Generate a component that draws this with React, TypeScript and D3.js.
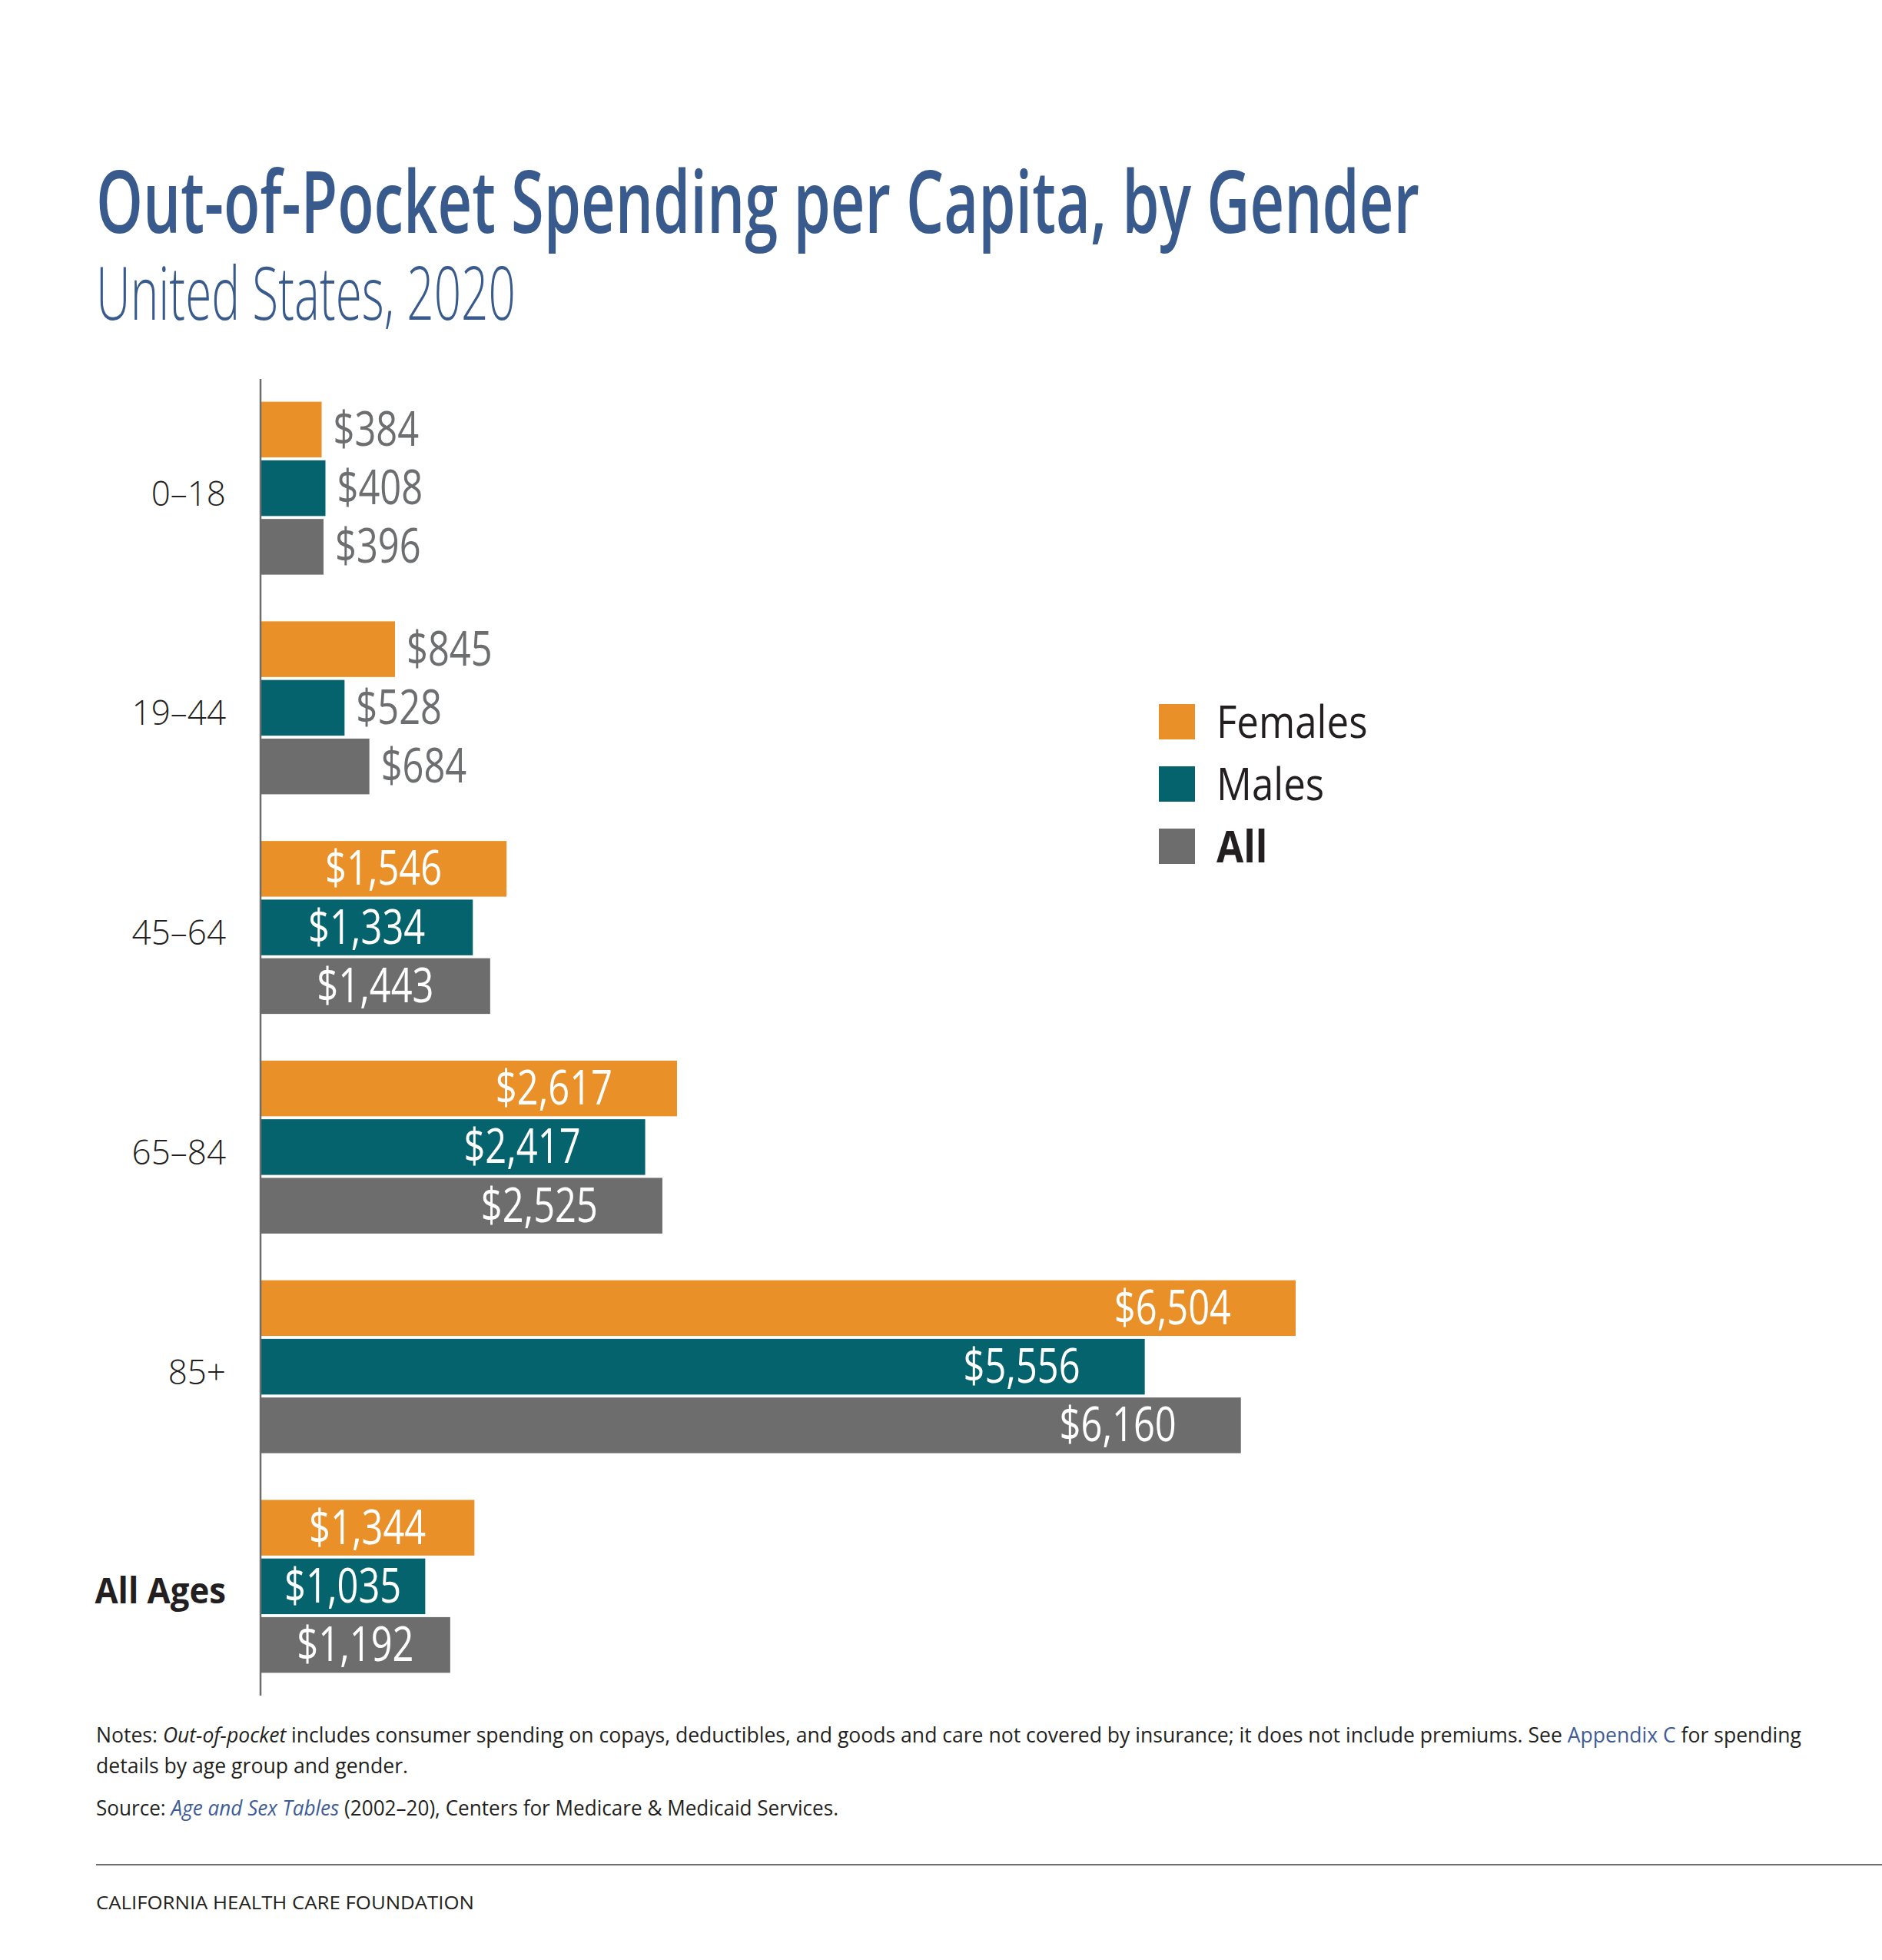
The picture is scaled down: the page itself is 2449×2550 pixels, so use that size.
import React from "react";
import * as d3 from "d3";

const categories = ["0–18", "19–44", "45–64", "65–84", "85+", "All Ages"];
const seriesNames = ["Females", "Males", "All"];
const females = [384, 845, 1546, 2617, 6504, 1344];
const males = [408, 528, 1334, 2417, 5556, 1035];
const allPeople = [396, 684, 1443, 2525, 6160, 1192];
const seriesColors = ["#EA9029", "#04636D", "#6D6D6D"];

const W = 2449;
const H = 2550;
const FONT = "'Open Sans', 'Noto Sans', sans-serif";

export default function App() {
  const values = [females, males, allPeople];
  const x = d3.scaleLinear().domain([0, 7000]).range([339, 339 + 7000 * 0.2071]);
  const y = d3.scaleBand<string>().domain(categories).range([493, 2206]).paddingInner(0.2126).paddingOuter(0.1037);
  const yi = d3.scaleBand<string>().domain(seriesNames).range([0, y.bandwidth()]).paddingInner(0.05);
  const fmt = d3.format("$,");

  const bars: React.ReactNode[] = [];
  categories.forEach((cat, ci) => {
    seriesNames.forEach((s, si) => {
      const v = values[si][ci];
      const y0 = (y(cat) as number) + (yi(s) as number);
      const h = yi.bandwidth();
      const x0 = x(0);
      const x1 = x(v);
      const cy = y0 + h / 2 + 21;
      bars.push(
        <rect key={`b-${ci}-${si}`} x={x0} y={y0} width={x1 - x0} height={h} fill={seriesColors[si]} />
      );
      let lx: number;
      let anchor: string;
      let fill: string;
      if (v < 1000) {
        lx = x1 + 15;
        anchor = "start";
        fill = "#6D6E70";
      } else if (v < 2000) {
        lx = (x0 + x1) / 2;
        anchor = "middle";
        fill = "#FFFFFF";
      } else {
        lx = x1 - 84;
        anchor = "end";
        fill = "#FFFFFF";
      }
      bars.push(
        <text
          key={`t-${ci}-${si}`}
          transform={`translate(${lx},${cy}) scale(0.8,1.02)`}
          textAnchor={anchor}
          fontSize={61}
          fontFamily={FONT}
          fill={fill}
        >
          {fmt(v)}
        </text>
      );
    });
  });

  const catLabels = categories.map((cat, ci) => {
    const cy = (y(cat) as number) + y.bandwidth() / 2 + 22.5;
    const isAll = ci === categories.length - 1;
    return (
      <text
        key={`c-${ci}`}
        transform={`translate(294,${cy}) scale(${isAll ? 0.93 : 1},1)`}
        textAnchor="end"
        fontSize={isAll ? 47 : 44}
        fontWeight={isAll ? 700 : 300}
        fontFamily={FONT}
        fill="#231F20"
      >
        {cat}
      </text>
    );
  });

  const legend = seriesNames.map((s, si) => {
    const ly = 916 + si * 81;
    return (
      <g key={`l-${si}`}>
        <rect x={1508} y={ly} width={47} height={46} fill={seriesColors[si]} />
        <text
          transform={`translate(1583,${ly + 44}) scale(0.88,1)`}
          fontSize={58}
          fontWeight={si === 2 ? 700 : 400}
          fontFamily={FONT}
          fill="#231F20"
        >
          {s}
        </text>
      </g>
    );
  });

  return (
    <svg width={W} height={H} style={{ position: "absolute", left: 0, top: 0, background: "#fff" }}>
      <rect x={0} y={0} width={W} height={H} fill="#fff" />
      <text x={125} y={303} fontSize={113} fontWeight={600} fontFamily={FONT} fill="#385A8D" textLength={1722} lengthAdjust="spacingAndGlyphs">
        Out-of-Pocket Spending per Capita, by Gender
      </text>
      <text x={125} y={416} fontSize={95} fontWeight={300} fontFamily={FONT} fill="#385A8D" textLength={546} lengthAdjust="spacingAndGlyphs">
        United States, 2020
      </text>
      {bars}
      <line x1={339} x2={339} y1={493} y2={2206} stroke="#6D6D6D" strokeWidth={2.5} />
      {catLabels}
      {legend}
      <text x={125} y={2267} fontSize={28} fontFamily={FONT} fill="#231F20" textLength={2219} lengthAdjust="spacingAndGlyphs">
        Notes: <tspan fontStyle="italic">Out-of-pocket</tspan> includes consumer spending on copays, deductibles, and goods and care not covered by insurance; it does not include premiums. See <tspan fill="#3E5C96">Appendix C</tspan> for spending
      </text>
      <text x={125} y={2307} fontSize={28} fontFamily={FONT} fill="#231F20" textLength={406} lengthAdjust="spacingAndGlyphs">
        details by age group and gender.
      </text>
      <text x={125} y={2362} fontSize={28} fontFamily={FONT} fill="#231F20" textLength={966} lengthAdjust="spacingAndGlyphs">
        Source: <tspan fontStyle="italic" fill="#3E5C96">Age and Sex Tables</tspan> (2002–20), Centers for Medicare &amp; Medicaid Services.
      </text>
      <line x1={125} x2={W} y1={2426} y2={2426} stroke="#6D6E70" strokeWidth={2} />
      <text x={125} y={2484} fontSize={24} fontFamily={FONT} fill="#231F20" textLength={492} lengthAdjust="spacingAndGlyphs">
        CALIFORNIA HEALTH CARE FOUNDATION
      </text>
    </svg>
  );
}
